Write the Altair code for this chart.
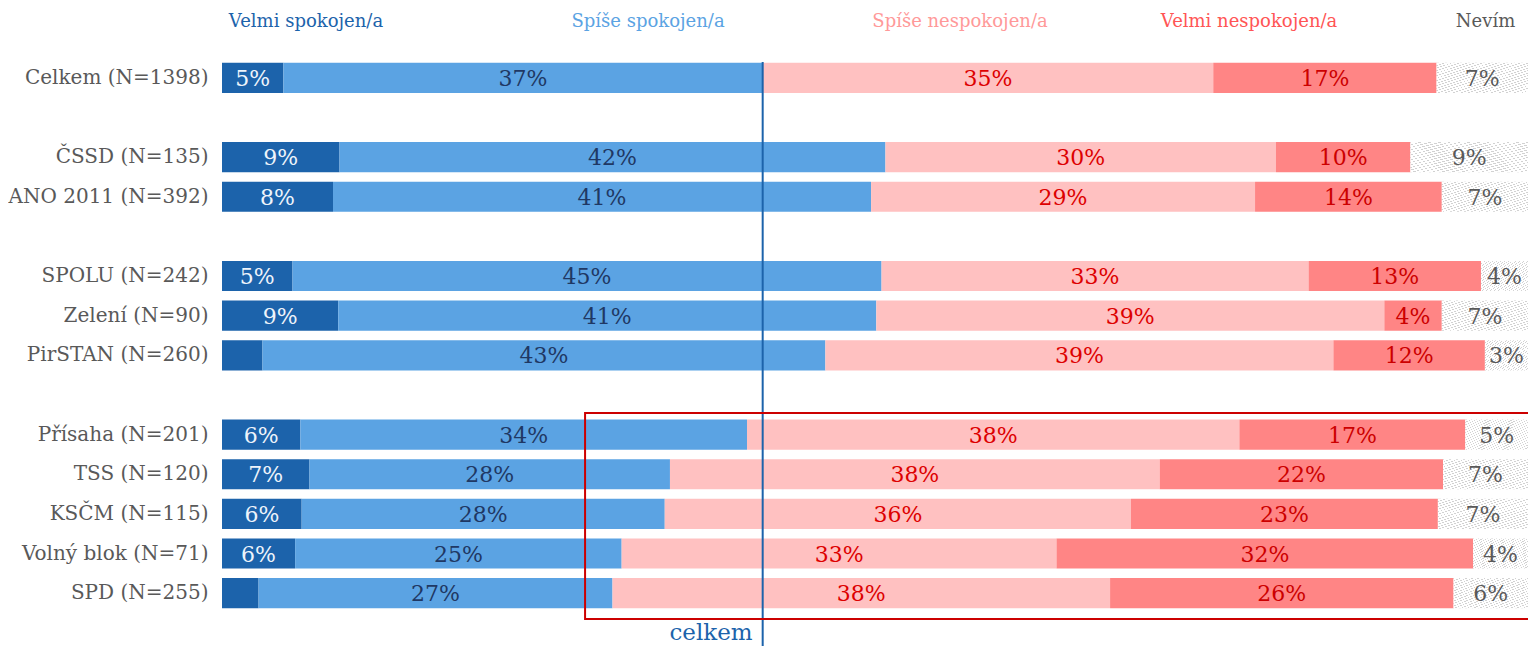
import altair as alt
import pandas as pd

rows = ["Celkem (N=1398)", "ČSSD (N=135)", "ANO 2011 (N=392)", "SPOLU (N=242)",
        "Zelení (N=90)", "PirSTAN (N=260)", "Přísaha (N=201)", "TSS (N=120)",
        "KSČM (N=115)", "Volný blok (N=71)", "SPD (N=255)"]
row_order = ["Celkem (N=1398)", " ", "ČSSD (N=135)", "ANO 2011 (N=392)", "  ",
             "SPOLU (N=242)", "Zelení (N=90)", "PirSTAN (N=260)", "   ",
             "Přísaha (N=201)", "TSS (N=120)", "KSČM (N=115)", "Volný blok (N=71)", "SPD (N=255)"]
series = ["Velmi spokojen/a", "Spíše spokojen/a", "Spíše nespokojen/a", "Velmi nespokojen/a", "Nevím"]

velmi_spok = [4.7, 9.0, 8.5, 5.4, 8.9, 3.1, 6.0, 6.7, 6.1, 5.6, 2.8]
spise_spok = [36.7, 41.8, 41.2, 45.1, 41.2, 43.1, 34.2, 27.6, 27.8, 25.0, 27.1]
spise_nesp = [34.5, 29.9, 29.4, 32.7, 38.9, 38.9, 37.7, 37.5, 35.7, 33.3, 38.1]
velmi_nesp = [17.1, 10.3, 14.3, 13.2, 4.4, 11.6, 17.3, 21.7, 23.5, 31.9, 26.3]
nevim = [7.0, 9.0, 6.6, 3.6, 6.6, 3.3, 4.8, 6.5, 6.9, 4.2, 5.7]

lab_vs = ["5%", "9%", "8%", "5%", "9%", "", "6%", "7%", "6%", "6%", ""]
lab_ss = ["37%", "42%", "41%", "45%", "41%", "43%", "34%", "28%", "28%", "25%", "27%"]
lab_sn = ["35%", "30%", "29%", "33%", "39%", "39%", "38%", "38%", "36%", "33%", "38%"]
lab_vn = ["17%", "10%", "14%", "13%", "4%", "12%", "17%", "22%", "23%", "32%", "26%"]
lab_nv = ["7%", "9%", "7%", "4%", "7%", "3%", "5%", "7%", "7%", "4%", "6%"]

header_pos = [6.43, 32.62, 56.51, 78.64, 96.75]

bar_colors = ["#1c63ab", "#5ba3e3", "#ffc1c1", "#ff8585", "#eeeeee"]
label_colors = ["#eef4fb", "#1f3864", "#dd0000", "#cc0000", "#595959"]
header_colors = ["#1c63ab", "#5ba3e3", "#ff9999", "#ff5555", "#595959"]

FONT = "DejaVu Serif"

recs = []
vals = [velmi_spok, spise_spok, spise_nesp, velmi_nesp, nevim]
labs = [lab_vs, lab_ss, lab_sn, lab_vn, lab_nv]
for i, r in enumerate(rows):
    for k, s in enumerate(series):
        recs.append({"row": r, "series": s, "order": k, "value": vals[k][i], "label": labs[k][i]})
df = pd.DataFrame(recs)

hdr = pd.DataFrame({"series": series, "pos": header_pos})
celkem_df = pd.DataFrame({"x": [velmi_spok[0] + spise_spok[0]], "t": ["celkem"]})
box_df = pd.DataFrame({"x0": [27.8], "x1": [101.0]})

xs = alt.Scale(domain=[0, 100], nice=False, zero=False)
ys = alt.Scale(domain=row_order, paddingInner=0.24, paddingOuter=0.12)

# stripe gradient for "Nevím"
N = 24
gray = "#d2d2d2"
stops = []
for i in range(N):
    a = i / N
    b = (i + 0.25) / N
    stops += [{"offset": a, "color": gray}, {"offset": b, "color": gray},
              {"offset": b, "color": "#ffffff"}, {"offset": (i + 1) / N, "color": "#ffffff"}]
stripe = {"gradient": "linear", "x1": 0, "y1": 0, "x2": 1, "y2": 1, "stops": stops}

base = alt.Chart(df).transform_stack(
    stack="value", groupby=["row"], as_=["x0", "x1"], sort=[alt.SortField("order")]
).transform_calculate(mid="(datum.x0 + datum.x1) / 2")

yenc = alt.Y("row:N", scale=ys, sort=row_order,
             axis=alt.Axis(title=None, domain=False, ticks=False, labelFont=FONT,
                           labelFontSize=20, labelColor="#595959", labelPadding=14,
                           labelLimit=400))

bars = base.transform_filter("datum.series != 'Nevím'").mark_bar().encode(
    x=alt.X("x0:Q", scale=xs, axis=None),
    x2="x1:Q",
    y=yenc,
    color=alt.Color("series:N", scale=alt.Scale(domain=series, range=bar_colors), legend=None),
)

nev = base.transform_filter("datum.series == 'Nevím'").mark_bar(fill=stripe).encode(
    x=alt.X("x0:Q", scale=xs, axis=None),
    x2="x1:Q",
    y=alt.Y("row:N", scale=ys, sort=row_order),
)

texts = base.mark_text(font=FONT, fontSize=22, baseline="middle", align="center", dy=1).encode(
    x=alt.X("mid:Q", scale=xs),
    y=alt.Y("row:N", scale=ys, sort=row_order),
    text="label:N",
    color=alt.Color("series:N", scale=alt.Scale(domain=series, range=label_colors), legend=None),
)

rule = alt.Chart(celkem_df).mark_rule(color="#1c63ab", strokeWidth=2).encode(
    x=alt.X("x:Q", scale=xs), y=alt.value(4), y2=alt.value(600)
)
celkem_txt = alt.Chart(celkem_df).mark_text(
    font=FONT, fontSize=23, color="#1c63ab", align="right", baseline="alphabetic", dx=-10
).encode(x=alt.X("x:Q", scale=xs), y=alt.value(582), text="t:N")

headers = alt.Chart(hdr).mark_text(font=FONT, fontSize=18, baseline="middle", align="center").encode(
    x=alt.X("pos:Q", scale=xs),
    y=alt.value(-36),
    text="series:N",
    color=alt.Color("series:N", scale=alt.Scale(domain=series, range=header_colors), legend=None),
)

box = alt.Chart(box_df).mark_rect(fill="#ffffff", fillOpacity=0, stroke="#cc0000", strokeWidth=2).encode(
    x=alt.X("x0:Q", scale=xs), x2="x1:Q", y=alt.value(355), y2=alt.value(561)
)

chart = alt.layer(bars, nev, texts, rule, celkem_txt, headers, box).resolve_scale(
    color="independent"
).properties(
    width=1306, height=555,
    autosize=alt.AutoSizeParams(type="none"),
    padding={"left": 214, "top": 50, "right": 0, "bottom": 33},
).configure_view(stroke=None)

chart.save("out.html", embed_options={"renderer": "svg", "actions": False})
